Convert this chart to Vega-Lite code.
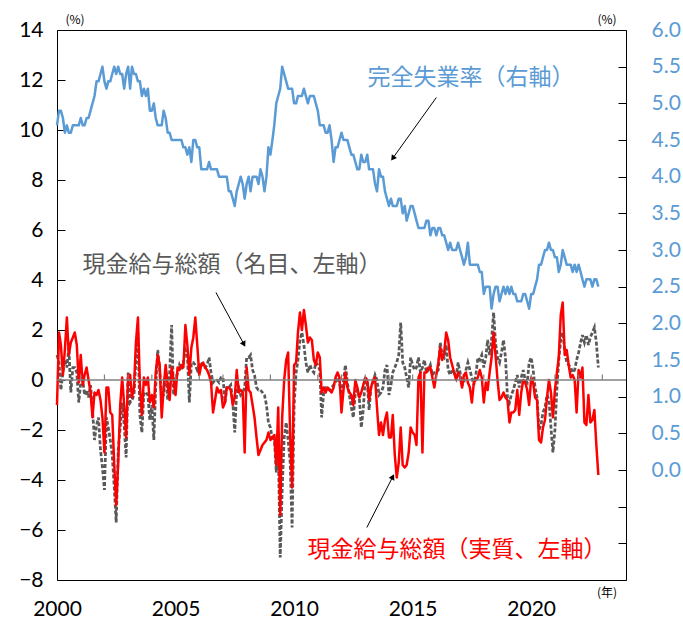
{
"$schema": "https://vega.github.io/schema/vega-lite/v6.json",
"width": 569, "height": 550,
"autosize": {"type": "none"},
"padding": {"left": 57, "top": 30, "right": 57, "bottom": 41},
"background": "white",
"config": {"view": {"stroke": "#000000", "strokeWidth": 1}, "font": "Lato", "axis": {"grid": false, "domain": false}},
"datasets": {
"w": [
{"d":"2000-01","u":4.7,"n":1.0,"r":-1.0},{"d":"2000-02","u":4.9,"n":0.7,"r":1.9},{"d":"2000-03","u":4.9,"n":-0.4,"r":1.4},{"d":"2000-04","u":4.8,"n":0.3,"r":0.2},{"d":"2000-05","u":4.6,"n":0.8,"r":1.2},{"d":"2000-06","u":4.7,"n":0.5,"r":2.5},{"d":"2000-07","u":4.6,"n":1.3,"r":1.0},{"d":"2000-08","u":4.6,"n":-0.5,"r":1.5},{"d":"2000-09","u":4.7,"n":0.5,"r":1.7},{"d":"2000-10","u":4.7,"n":0.5,"r":1.9},{"d":"2000-11","u":4.7,"n":0.3,"r":1.4},{"d":"2000-12","u":4.7,"n":-0.9,"r":-0.1},
{"d":"2001-01","u":4.8,"n":-0.1,"r":1.0},{"d":"2001-02","u":4.7,"n":0.0,"r":-0.2},{"d":"2001-03","u":4.7,"n":-0.6,"r":0.2},{"d":"2001-04","u":4.8,"n":-0.4,"r":0.5},{"d":"2001-05","u":4.8,"n":-0.7,"r":0.0},{"d":"2001-06","u":4.9,"n":-0.2,"r":-0.5},{"d":"2001-07","u":5.0,"n":-1.2,"r":-1.5},{"d":"2001-08","u":5.1,"n":-2.4,"r":-0.5},{"d":"2001-09","u":5.3,"n":-1.8,"r":-0.6},{"d":"2001-10","u":5.3,"n":-1.5,"r":-0.4},{"d":"2001-11","u":5.4,"n":-2.8,"r":-0.8},{"d":"2001-12","u":5.5,"n":-3.5,"r":-1.5},
{"d":"2002-01","u":5.3,"n":-4.4,"r":-2.9},{"d":"2002-02","u":5.2,"n":-1.5,"r":-0.3},{"d":"2002-03","u":5.3,"n":-1.9,"r":-0.3},{"d":"2002-04","u":5.3,"n":-2.4,"r":-1.3},{"d":"2002-05","u":5.4,"n":-3.0,"r":-1.4},{"d":"2002-06","u":5.5,"n":-4.3,"r":-3.4},{"d":"2002-07","u":5.4,"n":-5.7,"r":-5.0},{"d":"2002-08","u":5.5,"n":-2.8,"r":-3.3},{"d":"2002-09","u":5.4,"n":-1.9,"r":-1.0},{"d":"2002-10","u":5.4,"n":-0.9,"r":0.1},{"d":"2002-11","u":5.2,"n":-1.8,"r":-1.0},{"d":"2002-12","u":5.4,"n":-3.1,"r":-2.3},
{"d":"2003-01","u":5.5,"n":0.3,"r":0.2},{"d":"2003-02","u":5.2,"n":-0.9,"r":0.2},{"d":"2003-03","u":5.5,"n":-0.8,"r":-0.7},{"d":"2003-04","u":5.4,"n":-0.6,"r":-0.3},{"d":"2003-05","u":5.4,"n":0.8,"r":1.5},{"d":"2003-06","u":5.3,"n":1.9,"r":2.5},{"d":"2003-07","u":5.3,"n":-1.4,"r":-0.2},{"d":"2003-08","u":5.1,"n":-2.1,"r":-1.4},{"d":"2003-09","u":5.2,"n":-0.5,"r":0.1},{"d":"2003-10","u":5.1,"n":-0.5,"r":-0.2},{"d":"2003-11","u":5.2,"n":-0.6,"r":0.1},{"d":"2003-12","u":4.9,"n":-1.6,"r":-0.9},
{"d":"2004-01","u":4.9,"n":-1.0,"r":-0.6},{"d":"2004-02","u":5.0,"n":-2.4,"r":-1.1},{"d":"2004-03","u":4.8,"n":-0.3,"r":0.3},{"d":"2004-04","u":4.7,"n":1.2,"r":1.0},{"d":"2004-05","u":4.7,"n":0.4,"r":0.6},{"d":"2004-06","u":4.7,"n":-0.7,"r":-1.5},{"d":"2004-07","u":4.9,"n":-0.6,"r":-0.3},{"d":"2004-08","u":4.8,"n":0.4,"r":0.6},{"d":"2004-09","u":4.6,"n":-0.8,"r":-0.2},{"d":"2004-10","u":4.6,"n":0.3,"r":-0.8},{"d":"2004-11","u":4.5,"n":2.2,"r":0.5},{"d":"2004-12","u":4.5,"n":-0.6,"r":0.0},
{"d":"2005-01","u":4.5,"n":0.0,"r":-0.6},{"d":"2005-02","u":4.5,"n":0.3,"r":0.5},{"d":"2005-03","u":4.5,"n":0.6,"r":0.4},{"d":"2005-04","u":4.5,"n":0.4,"r":0.6},{"d":"2005-05","u":4.4,"n":0.7,"r":0.5},{"d":"2005-06","u":4.4,"n":1.2,"r":2.2},{"d":"2005-07","u":4.3,"n":1.0,"r":1.4},{"d":"2005-08","u":4.4,"n":-0.9,"r":0.2},{"d":"2005-09","u":4.2,"n":0.7,"r":1.3},{"d":"2005-10","u":4.5,"n":0.7,"r":1.7},{"d":"2005-11","u":4.5,"n":0.6,"r":2.5},{"d":"2005-12","u":4.4,"n":0.4,"r":1.4},
{"d":"2006-01","u":4.4,"n":0.6,"r":0.2},{"d":"2006-02","u":4.1,"n":0.7,"r":0.6},{"d":"2006-03","u":4.1,"n":0.5,"r":0.7},{"d":"2006-04","u":4.1,"n":0.5,"r":0.5},{"d":"2006-05","u":4.1,"n":0.6,"r":0.4},{"d":"2006-06","u":4.2,"n":0.9,"r":0.2},{"d":"2006-07","u":4.1,"n":0.3,"r":-0.1},{"d":"2006-08","u":4.1,"n":-0.1,"r":-1.3},{"d":"2006-09","u":4.1,"n":0.0,"r":-0.8},{"d":"2006-10","u":4.1,"n":0.0,"r":-0.3},{"d":"2006-11","u":4.0,"n":-0.1,"r":-0.5},{"d":"2006-12","u":4.0,"n":0.1,"r":-0.4},
{"d":"2007-01","u":4.0,"n":0.1,"r":-1.1},{"d":"2007-02","u":4.0,"n":-0.9,"r":-0.9},{"d":"2007-03","u":4.0,"n":-0.3,"r":-0.3},{"d":"2007-04","u":3.8,"n":-0.3,"r":-0.3},{"d":"2007-05","u":3.8,"n":-0.2,"r":-0.4},{"d":"2007-06","u":3.7,"n":-0.9,"r":-1.0},{"d":"2007-07","u":3.6,"n":-2.1,"r":-0.7},{"d":"2007-08","u":3.8,"n":-0.4,"r":0.4},{"d":"2007-09","u":3.9,"n":-0.3,"r":-0.5},{"d":"2007-10","u":4.0,"n":-0.6,"r":-0.4},{"d":"2007-11","u":3.9,"n":-0.5,"r":-0.5},{"d":"2007-12","u":3.7,"n":-0.3,"r":-2.9},
{"d":"2008-01","u":3.9,"n":0.9,"r":0.5},{"d":"2008-02","u":4.0,"n":0.9,"r":-0.4},{"d":"2008-03","u":3.8,"n":1.0,"r":-0.5},{"d":"2008-04","u":4.0,"n":0.4,"r":-1.0},{"d":"2008-05","u":4.0,"n":0.2,"r":-1.5},{"d":"2008-06","u":4.0,"n":-0.3,"r":-2.3},{"d":"2008-07","u":3.9,"n":-0.4,"r":-3.0},{"d":"2008-08","u":4.1,"n":-0.4,"r":-2.8},{"d":"2008-09","u":4.0,"n":-0.5,"r":-2.6},{"d":"2008-10","u":3.8,"n":-0.6,"r":-2.5},{"d":"2008-11","u":4.0,"n":-1.0,"r":-2.4},{"d":"2008-12","u":4.4,"n":-1.7,"r":-2.1},
{"d":"2009-01","u":4.3,"n":-1.9,"r":-2.4},{"d":"2009-02","u":4.5,"n":-2.4,"r":-2.3},{"d":"2009-03","u":4.7,"n":-2.3,"r":-2.2},{"d":"2009-04","u":5.0,"n":-3.7,"r":-3.4},{"d":"2009-05","u":5.1,"n":-2.5,"r":-1.1},{"d":"2009-06","u":5.2,"n":-7.1,"r":-5.4},{"d":"2009-07","u":5.5,"n":-4.4,"r":-1.5},{"d":"2009-08","u":5.4,"n":-2.3,"r":0.0},{"d":"2009-09","u":5.3,"n":-1.7,"r":0.8},{"d":"2009-10","u":5.2,"n":-2.4,"r":1.1},{"d":"2009-11","u":5.2,"n":-3.3,"r":-2.2},{"d":"2009-12","u":5.2,"n":-5.9,"r":-4.3},
{"d":"2010-01","u":5.0,"n":-1.0,"r":0.6},{"d":"2010-02","u":5.0,"n":0.3,"r":0.7},{"d":"2010-03","u":5.1,"n":0.8,"r":1.9},{"d":"2010-04","u":5.1,"n":1.6,"r":2.7},{"d":"2010-05","u":5.1,"n":1.9,"r":2.0},{"d":"2010-06","u":5.2,"n":1.4,"r":2.8},{"d":"2010-07","u":5.1,"n":0.7,"r":2.2},{"d":"2010-08","u":5.0,"n":0.3,"r":1.5},{"d":"2010-09","u":5.1,"n":0.6,"r":1.7},{"d":"2010-10","u":5.1,"n":0.4,"r":1.6},{"d":"2010-11","u":5.1,"n":0.3,"r":0.8},{"d":"2010-12","u":5.0,"n":0.7,"r":0.6},
{"d":"2011-01","u":4.9,"n":0.6,"r":1.1},{"d":"2011-02","u":4.7,"n":0.4,"r":0.9},{"d":"2011-03","u":4.7,"n":-1.5,"r":-0.5},{"d":"2011-04","u":4.7,"n":-0.5,"r":-0.3},{"d":"2011-05","u":4.6,"n":-0.3,"r":-0.5},{"d":"2011-06","u":4.6,"n":-0.3,"r":-0.3},{"d":"2011-07","u":4.7,"n":-0.4,"r":-0.4},{"d":"2011-08","u":4.5,"n":-0.3,"r":-0.5},{"d":"2011-09","u":4.2,"n":-0.2,"r":-0.3},{"d":"2011-10","u":4.4,"n":-0.1,"r":0.1},{"d":"2011-11","u":4.4,"n":0.1,"r":0.3},{"d":"2011-12","u":4.5,"n":-0.1,"r":0.1},
{"d":"2012-01","u":4.6,"n":-0.6,"r":-1.3},{"d":"2012-02","u":4.5,"n":0.0,"r":-0.4},{"d":"2012-03","u":4.5,"n":0.6,"r":0.3},{"d":"2012-04","u":4.5,"n":-0.1,"r":-0.3},{"d":"2012-05","u":4.4,"n":-0.6,"r":-0.5},{"d":"2012-06","u":4.3,"n":-1.1,"r":-0.6},{"d":"2012-07","u":4.3,"n":-1.5,"r":-1.0},{"d":"2012-08","u":4.2,"n":-0.5,"r":0.0},{"d":"2012-09","u":4.1,"n":-0.4,"r":-0.3},{"d":"2012-10","u":4.1,"n":-0.7,"r":-0.7},{"d":"2012-11","u":4.3,"n":-1.9,"r":-0.5},{"d":"2012-12","u":4.2,"n":-1.2,"r":-0.2},
{"d":"2013-01","u":4.2,"n":0.1,"r":0.1},{"d":"2013-02","u":4.3,"n":-0.1,"r":0.0},{"d":"2013-03","u":4.1,"n":-1.2,"r":-0.8},{"d":"2013-04","u":4.1,"n":-0.2,"r":-0.3},{"d":"2013-05","u":4.1,"n":-0.1,"r":0.0},{"d":"2013-06","u":3.9,"n":0.2,"r":0.1},{"d":"2013-07","u":3.8,"n":0.0,"r":-1.1},{"d":"2013-08","u":4.1,"n":-0.6,"r":-2.2},{"d":"2013-09","u":4.0,"n":-0.5,"r":-1.7},{"d":"2013-10","u":4.0,"n":-0.3,"r":-2.2},{"d":"2013-11","u":3.8,"n":0.4,"r":-1.6},{"d":"2013-12","u":3.7,"n":0.6,"r":-1.3},
{"d":"2014-01","u":3.6,"n":-0.6,"r":-2.3},{"d":"2014-02","u":3.7,"n":-0.2,"r":-2.3},{"d":"2014-03","u":3.6,"n":0.3,"r":-1.4},{"d":"2014-04","u":3.6,"n":0.5,"r":-3.0},{"d":"2014-05","u":3.6,"n":0.7,"r":-3.9},{"d":"2014-06","u":3.7,"n":1.0,"r":-3.3},{"d":"2014-07","u":3.7,"n":2.3,"r":-1.9},{"d":"2014-08","u":3.5,"n":0.7,"r":-3.4},{"d":"2014-09","u":3.6,"n":0.5,"r":-3.5},{"d":"2014-10","u":3.4,"n":0.1,"r":-3.4},{"d":"2014-11","u":3.5,"n":-0.3,"r":-2.9},{"d":"2014-12","u":3.6,"n":0.9,"r":-1.9},
{"d":"2015-01","u":3.6,"n":0.6,"r":-2.1},{"d":"2015-02","u":3.5,"n":0.4,"r":-2.2},{"d":"2015-03","u":3.4,"n":0.5,"r":-2.6},{"d":"2015-04","u":3.3,"n":0.9,"r":0.1},{"d":"2015-05","u":3.3,"n":0.3,"r":0.3},{"d":"2015-06","u":3.3,"n":0.5,"r":-2.9},{"d":"2015-07","u":3.3,"n":0.8,"r":0.3},{"d":"2015-08","u":3.4,"n":0.3,"r":0.3},{"d":"2015-09","u":3.4,"n":0.4,"r":0.5},{"d":"2015-10","u":3.2,"n":0.6,"r":0.5},{"d":"2015-11","u":3.3,"n":0.2,"r":0.1},{"d":"2015-12","u":3.3,"n":0.3,"r":-0.3},
{"d":"2016-01","u":3.2,"n":0.3,"r":0.2},{"d":"2016-02","u":3.3,"n":0.4,"r":0.7},{"d":"2016-03","u":3.3,"n":1.5,"r":1.3},{"d":"2016-04","u":3.2,"n":1.0,"r":0.8},{"d":"2016-05","u":3.2,"n":0.9,"r":1.1},{"d":"2016-06","u":3.1,"n":1.4,"r":1.9},{"d":"2016-07","u":3.0,"n":0.4,"r":1.6},{"d":"2016-08","u":3.1,"n":0.2,"r":0.9},{"d":"2016-09","u":3.0,"n":0.4,"r":0.6},{"d":"2016-10","u":3.0,"n":0.3,"r":0.3},{"d":"2016-11","u":3.0,"n":0.1,"r":0.0},{"d":"2016-12","u":3.1,"n":0.7,"r":0.3},
{"d":"2017-01","u":3.0,"n":0.3,"r":0.1},{"d":"2017-02","u":2.9,"n":-0.2,"r":-0.3},{"d":"2017-03","u":2.8,"n":-0.1,"r":0.2},{"d":"2017-04","u":2.9,"n":0.4,"r":0.3},{"d":"2017-05","u":3.1,"n":0.7,"r":-0.1},{"d":"2017-06","u":2.8,"n":0.4,"r":-0.3},{"d":"2017-07","u":2.8,"n":0.1,"r":-0.9},{"d":"2017-08","u":2.8,"n":-0.2,"r":-0.1},{"d":"2017-09","u":2.8,"n":0.2,"r":0.0},{"d":"2017-10","u":2.8,"n":0.9,"r":0.1},{"d":"2017-11","u":2.7,"n":0.8,"r":0.4},{"d":"2017-12","u":2.7,"n":1.0,"r":0.1},
{"d":"2018-01","u":2.4,"n":0.5,"r":-0.9},{"d":"2018-02","u":2.5,"n":0.9,"r":-0.1},{"d":"2018-03","u":2.5,"n":1.6,"r":-0.4},{"d":"2018-04","u":2.5,"n":1.0,"r":0.3},{"d":"2018-05","u":2.2,"n":1.6,"r":0.9},{"d":"2018-06","u":2.4,"n":2.7,"r":1.9},{"d":"2018-07","u":2.5,"n":1.5,"r":1.0},{"d":"2018-08","u":2.5,"n":0.9,"r":0.0},{"d":"2018-09","u":2.3,"n":0.7,"r":-0.8},{"d":"2018-10","u":2.4,"n":1.1,"r":-0.7},{"d":"2018-11","u":2.5,"n":1.6,"r":-0.5},{"d":"2018-12","u":2.4,"n":0.9,"r":-0.7},
{"d":"2019-01","u":2.5,"n":-0.7,"r":-0.8},{"d":"2019-02","u":2.4,"n":-0.9,"r":-1.7},{"d":"2019-03","u":2.5,"n":-0.6,"r":-1.3},{"d":"2019-04","u":2.4,"n":-0.4,"r":-1.3},{"d":"2019-05","u":2.4,"n":-0.1,"r":-1.2},{"d":"2019-06","u":2.3,"n":0.2,"r":-0.4},{"d":"2019-07","u":2.3,"n":-0.3,"r":-1.4},{"d":"2019-08","u":2.3,"n":0.1,"r":-0.5},{"d":"2019-09","u":2.4,"n":0.4,"r":0.0},{"d":"2019-10","u":2.4,"n":0.0,"r":-0.1},{"d":"2019-11","u":2.3,"n":-0.1,"r":-0.4},{"d":"2019-12","u":2.2,"n":0.7,"r":-1.0},
{"d":"2020-01","u":2.4,"n":0.9,"r":0.1},{"d":"2020-02","u":2.4,"n":0.4,"r":-0.1},{"d":"2020-03","u":2.5,"n":-0.3,"r":-0.7},{"d":"2020-04","u":2.6,"n":-0.7,"r":-0.8},{"d":"2020-05","u":2.8,"n":-2.0,"r":-2.4},{"d":"2020-06","u":2.8,"n":-1.8,"r":-2.5},{"d":"2020-07","u":2.9,"n":-1.3,"r":-1.9},{"d":"2020-08","u":3.0,"n":-1.1,"r":-1.6},{"d":"2020-09","u":3.0,"n":-0.6,"r":-0.7},{"d":"2020-10","u":3.1,"n":-0.8,"r":0.0},{"d":"2020-11","u":3.0,"n":-1.9,"r":-0.5},{"d":"2020-12","u":3.0,"n":-2.9,"r":-1.5},
{"d":"2021-01","u":2.9,"n":-2.0,"r":-0.4},{"d":"2021-02","u":2.9,"n":-0.3,"r":0.3},{"d":"2021-03","u":2.7,"n":0.8,"r":0.9},{"d":"2021-04","u":2.8,"n":1.6,"r":2.6},{"d":"2021-05","u":3.0,"n":1.9,"r":3.1},{"d":"2021-06","u":2.9,"n":1.2,"r":1.0},{"d":"2021-07","u":2.8,"n":0.7,"r":1.2},{"d":"2021-08","u":2.8,"n":0.6,"r":0.6},{"d":"2021-09","u":2.8,"n":0.5,"r":0.1},{"d":"2021-10","u":2.7,"n":0.3,"r":0.2},{"d":"2021-11","u":2.8,"n":0.4,"r":0.0},{"d":"2021-12","u":2.7,"n":0.8,"r":-1.3},
{"d":"2022-01","u":2.8,"n":1.1,"r":0.4},{"d":"2022-02","u":2.7,"n":1.5,"r":0.1},{"d":"2022-03","u":2.6,"n":1.8,"r":0.5},{"d":"2022-04","u":2.5,"n":1.5,"r":-1.7},{"d":"2022-05","u":2.6,"n":1.8,"r":-1.8},{"d":"2022-06","u":2.6,"n":1.4,"r":-0.6},{"d":"2022-07","u":2.6,"n":1.7,"r":-1.7},{"d":"2022-08","u":2.5,"n":1.9,"r":-1.6},{"d":"2022-09","u":2.6,"n":2.1,"r":-1.2},{"d":"2022-10","u":2.6,"n":1.5,"r":-2.6},{"d":"2022-11","u":2.5,"n":0.5,"r":-3.8}
],
"years": [{"d":"2001-01"},{"d":"2002-01"},{"d":"2003-01"},{"d":"2004-01"},{"d":"2005-01"},{"d":"2006-01"},{"d":"2007-01"},{"d":"2008-01"},{"d":"2009-01"},{"d":"2010-01"},{"d":"2011-01"},{"d":"2012-01"},{"d":"2013-01"},{"d":"2014-01"},{"d":"2015-01"},{"d":"2016-01"},{"d":"2017-01"},{"d":"2018-01"},{"d":"2019-01"},{"d":"2020-01"},{"d":"2021-01"},{"d":"2022-01"},{"d":"2023-01"}]
},
"layer": [
{"data": {"name": "w"}, "mark": {"type": "line", "color": "#595959", "strokeWidth": 2.75, "strokeDash": [4, 2], "zindex": 2},
 "encoding": {"x": {"field": "d", "type": "temporal", "title": null, "scale": {"domain": [{"year": 2000, "month": 1, "date": 1}, {"year": 2024, "month": 1, "date": 1}]},
   "axis": {"tickCount": {"interval": "year", "step": 5}, "format": "%Y", "tickSize": 0, "tickOpacity": 0, "domain": false, "grid": false, "labelFlush": false, "labelOverlap": false, "labelFont": "Lato", "labelFontSize": 21, "labelColor": "#000000", "labelPadding": 18, "title": null}},
  "y": {"field": "n", "type": "quantitative", "scale": {"domain": [-8, 14]},
   "axis": {"orient": "left", "values": [-8, -6, -4, -2, 0, 2, 4, 6, 8, 10, 12, 14], "tickSize": -8, "tickColor": "#000000", "tickWidth": 1, "domain": false, "grid": false, "labelFont": "Lato", "labelFontSize": 21, "labelColor": "#000000", "labelPadding": 22, "labelOverlap": false, "title": null}}}},
{"data": {"name": "w"}, "mark": {"type": "line", "color": "#5B9BD5", "strokeWidth": 2.5, "strokeJoin": "round"},
 "encoding": {"x": {"field": "d", "type": "temporal", "title": null, "scale": {"domain": [{"year": 2000, "month": 1, "date": 1}, {"year": 2024, "month": 1, "date": 1}]},
   "axis": {"tickCount": {"interval": "year", "step": 5}, "format": "%Y", "tickSize": 0, "tickOpacity": 0, "domain": false, "grid": false, "labelFlush": false, "labelOverlap": false, "labelFont": "Lato", "labelFontSize": 21, "labelColor": "#000000", "labelPadding": 18, "title": null}},
  "y": {"field": "u", "type": "quantitative", "scale": {"domain": [-1.5, 6]},
   "axis": {"orient": "right", "values": [-1.5, -1, -0.5, 0, 0.5, 1, 1.5, 2, 2.5, 3, 3.5, 4, 4.5, 5, 5.5, 6], "labelExpr": "datum.value >= -0.001 ? format(datum.value, '.1f') : ''", "tickSize": -8, "tickColor": "#000000", "tickWidth": 1, "domain": false, "grid": false, "labelFont": "Lato", "labelFontSize": 21, "labelColor": "#5B9BD5", "labelPadding": 33, "labelOverlap": false, "title": null}}}},
{"data": {"name": "w"}, "mark": {"type": "line", "color": "#FF0000", "strokeWidth": 2.5, "strokeJoin": "round", "zindex": 1},
 "encoding": {"x": {"field": "d", "type": "temporal", "title": null, "scale": {"domain": [{"year": 2000, "month": 1, "date": 1}, {"year": 2024, "month": 1, "date": 1}]},
   "axis": {"tickCount": {"interval": "year", "step": 5}, "format": "%Y", "tickSize": 0, "tickOpacity": 0, "domain": false, "grid": false, "labelFlush": false, "labelOverlap": false, "labelFont": "Lato", "labelFontSize": 21, "labelColor": "#000000", "labelPadding": 18, "title": null}},
  "y": {"field": "r", "type": "quantitative", "scale": {"domain": [-8, 14]}, "axis": null}}},
{"data": {"values": [{}]}, "mark": {"type": "rule", "color": "#808080", "strokeWidth": 1.5},
 "encoding": {"y": {"datum": 0, "type": "quantitative", "scale": {"domain": [-8, 14]}, "axis": null}}},
{"data": {"name": "years"}, "mark": {"type": "rule", "color": "#808080", "strokeWidth": 1.2},
 "encoding": {"x": {"field": "d", "type": "temporal", "title": null, "scale": {"domain": [{"year": 2000, "month": 1, "date": 1}, {"year": 2024, "month": 1, "date": 1}]},
   "axis": {"tickCount": {"interval": "year", "step": 5}, "format": "%Y", "tickSize": 0, "tickOpacity": 0, "domain": false, "grid": false, "labelFlush": false, "labelOverlap": false, "labelFont": "Lato", "labelFontSize": 21, "labelColor": "#000000", "labelPadding": 18, "title": null}},
  "y": {"datum": 0, "type": "quantitative", "scale": {"domain": [-8, 14]}, "axis": null}, "y2": {"datum": 0.22}}},
{"data": {"values": [{}]}, "mark": {"type": "text", "text": "完全失業率（右軸）", "font": "Noto Sans CJK JP", "fontSize": 23, "color": "#5B9BD5", "align": "center", "baseline": "middle"},
 "encoding": {"x": {"datum": {"year": 2017, "month": 6, "date": 19}, "type": "temporal", "title": null, "scale": {"domain": [{"year": 2000, "month": 1, "date": 1}, {"year": 2024, "month": 1, "date": 1}]},
   "axis": {"tickCount": {"interval": "year", "step": 5}, "format": "%Y", "tickSize": 0, "tickOpacity": 0, "domain": false, "grid": false, "labelFlush": false, "labelOverlap": false, "labelFont": "Lato", "labelFontSize": 21, "labelColor": "#000000", "labelPadding": 18, "title": null}},
  "y": {"datum": 12.08, "type": "quantitative", "scale": {"domain": [-8, 14]}, "axis": null}}},
{"data": {"values": [{}]}, "mark": {"type": "text", "text": "現金給与総額（名目、左軸）", "font": "Noto Sans CJK JP", "fontSize": 23, "color": "#595959", "align": "center", "baseline": "middle"},
 "encoding": {"x": {"datum": {"year": 2007, "month": 5, "date": 19}, "type": "temporal", "title": null, "scale": {"domain": [{"year": 2000, "month": 1, "date": 1}, {"year": 2024, "month": 1, "date": 1}]},
   "axis": {"tickCount": {"interval": "year", "step": 5}, "format": "%Y", "tickSize": 0, "tickOpacity": 0, "domain": false, "grid": false, "labelFlush": false, "labelOverlap": false, "labelFont": "Lato", "labelFontSize": 21, "labelColor": "#000000", "labelPadding": 18, "title": null}},
  "y": {"datum": 4.6, "type": "quantitative", "scale": {"domain": [-8, 14]}, "axis": null}}},
{"data": {"values": [{}]}, "mark": {"type": "text", "text": "現金給与総額（実質、左軸）", "font": "Noto Sans CJK JP", "fontSize": 23, "color": "#FF0000", "align": "center", "baseline": "middle"},
 "encoding": {"x": {"datum": {"year": 2016, "month": 11, "date": 15}, "type": "temporal", "title": null, "scale": {"domain": [{"year": 2000, "month": 1, "date": 1}, {"year": 2024, "month": 1, "date": 1}]},
   "axis": {"tickCount": {"interval": "year", "step": 5}, "format": "%Y", "tickSize": 0, "tickOpacity": 0, "domain": false, "grid": false, "labelFlush": false, "labelOverlap": false, "labelFont": "Lato", "labelFontSize": 21, "labelColor": "#000000", "labelPadding": 18, "title": null}},
  "y": {"datum": -6.8, "type": "quantitative", "scale": {"domain": [-8, 14]}, "axis": null}}},
{"data": {"values": [{}]}, "mark": {"type": "rule", "color": "#000000", "strokeWidth": 1},
 "encoding": {"x": {"datum": {"year": 2016, "month": 1, "date": 1}, "type": "temporal", "title": null, "scale": {"domain": [{"year": 2000, "month": 1, "date": 1}, {"year": 2024, "month": 1, "date": 1}]},
   "axis": {"tickCount": {"interval": "year", "step": 5}, "format": "%Y", "tickSize": 0, "tickOpacity": 0, "domain": false, "grid": false, "labelFlush": false, "labelOverlap": false, "labelFont": "Lato", "labelFontSize": 21, "labelColor": "#000000", "labelPadding": 18, "title": null}},
  "y": {"datum": 11.3, "type": "quantitative", "scale": {"domain": [-8, 14]}, "axis": null},
  "x2": {"datum": {"year": 2014, "month": 3, "date": 1}}, "y2": {"datum": 8.87}}},
{"data": {"values": [{}]}, "mark": {"type": "rule", "color": "#000000", "strokeWidth": 1},
 "encoding": {"x": {"datum": {"year": 2006, "month": 9, "date": 15}, "type": "temporal", "title": null, "scale": {"domain": [{"year": 2000, "month": 1, "date": 1}, {"year": 2024, "month": 1, "date": 1}]},
   "axis": {"tickCount": {"interval": "year", "step": 5}, "format": "%Y", "tickSize": 0, "tickOpacity": 0, "domain": false, "grid": false, "labelFlush": false, "labelOverlap": false, "labelFont": "Lato", "labelFontSize": 21, "labelColor": "#000000", "labelPadding": 18, "title": null}},
  "y": {"datum": 3.5, "type": "quantitative", "scale": {"domain": [-8, 14]}, "axis": null},
  "x2": {"datum": {"year": 2007, "month": 11, "date": 20}}, "y2": {"datum": 1.43}}},
{"data": {"values": [{}]}, "mark": {"type": "rule", "color": "#000000", "strokeWidth": 1},
 "encoding": {"x": {"datum": {"year": 2013, "month": 1, "date": 25}, "type": "temporal", "title": null, "scale": {"domain": [{"year": 2000, "month": 1, "date": 1}, {"year": 2024, "month": 1, "date": 1}]},
   "axis": {"tickCount": {"interval": "year", "step": 5}, "format": "%Y", "tickSize": 0, "tickOpacity": 0, "domain": false, "grid": false, "labelFlush": false, "labelOverlap": false, "labelFont": "Lato", "labelFontSize": 21, "labelColor": "#000000", "labelPadding": 18, "title": null}},
  "y": {"datum": -5.9, "type": "quantitative", "scale": {"domain": [-8, 14]}, "axis": null},
  "x2": {"datum": {"year": 2014, "month": 3, "date": 1}}, "y2": {"datum": -3.87}}},
{"data": {"values": [{}]}, "mark": {"type": "point", "shape": "triangle-up", "filled": true, "color": "#000000", "size": 40, "angle": 216, "opacity": 1},
 "encoding": {"x": {"datum": {"year": 2014, "month": 3, "date": 1}, "type": "temporal", "title": null, "scale": {"domain": [{"year": 2000, "month": 1, "date": 1}, {"year": 2024, "month": 1, "date": 1}]},
   "axis": {"tickCount": {"interval": "year", "step": 5}, "format": "%Y", "tickSize": 0, "tickOpacity": 0, "domain": false, "grid": false, "labelFlush": false, "labelOverlap": false, "labelFont": "Lato", "labelFontSize": 21, "labelColor": "#000000", "labelPadding": 18, "title": null}},
  "y": {"datum": 8.87, "type": "quantitative", "scale": {"domain": [-8, 14]}, "axis": null}}},
{"data": {"values": [{}]}, "mark": {"type": "point", "shape": "triangle-up", "filled": true, "color": "#000000", "size": 40, "angle": 152, "opacity": 1},
 "encoding": {"x": {"datum": {"year": 2007, "month": 11, "date": 20}, "type": "temporal", "title": null, "scale": {"domain": [{"year": 2000, "month": 1, "date": 1}, {"year": 2024, "month": 1, "date": 1}]},
   "axis": {"tickCount": {"interval": "year", "step": 5}, "format": "%Y", "tickSize": 0, "tickOpacity": 0, "domain": false, "grid": false, "labelFlush": false, "labelOverlap": false, "labelFont": "Lato", "labelFontSize": 21, "labelColor": "#000000", "labelPadding": 18, "title": null}},
  "y": {"datum": 1.43, "type": "quantitative", "scale": {"domain": [-8, 14]}, "axis": null}}},
{"data": {"values": [{}]}, "mark": {"type": "point", "shape": "triangle-up", "filled": true, "color": "#000000", "size": 40, "angle": 27, "opacity": 1},
 "encoding": {"x": {"datum": {"year": 2014, "month": 3, "date": 1}, "type": "temporal", "title": null, "scale": {"domain": [{"year": 2000, "month": 1, "date": 1}, {"year": 2024, "month": 1, "date": 1}]},
   "axis": {"tickCount": {"interval": "year", "step": 5}, "format": "%Y", "tickSize": 0, "tickOpacity": 0, "domain": false, "grid": false, "labelFlush": false, "labelOverlap": false, "labelFont": "Lato", "labelFontSize": 21, "labelColor": "#000000", "labelPadding": 18, "title": null}},
  "y": {"datum": -3.87, "type": "quantitative", "scale": {"domain": [-8, 14]}, "axis": null}}},
{"data": {"values": [{}]}, "mark": {"type": "text", "text": "(%)", "font": "Noto Sans CJK JP", "fontSize": 12, "color": "#000000", "align": "center", "baseline": "middle"},
 "encoding": {"x": {"datum": {"year": 2000, "month": 10, "date": 4}, "type": "temporal", "title": null, "scale": {"domain": [{"year": 2000, "month": 1, "date": 1}, {"year": 2024, "month": 1, "date": 1}]},
   "axis": {"tickCount": {"interval": "year", "step": 5}, "format": "%Y", "tickSize": 0, "tickOpacity": 0, "domain": false, "grid": false, "labelFlush": false, "labelOverlap": false, "labelFont": "Lato", "labelFontSize": 21, "labelColor": "#000000", "labelPadding": 18, "title": null}},
  "y": {"datum": 14.4, "type": "quantitative", "scale": {"domain": [-8, 14]}, "axis": null}}},
{"data": {"values": [{}]}, "mark": {"type": "text", "text": "(%)", "font": "Noto Sans CJK JP", "fontSize": 12, "color": "#000000", "align": "center", "baseline": "middle"},
 "encoding": {"x": {"datum": {"year": 2023, "month": 3, "date": 15}, "type": "temporal", "title": null, "scale": {"domain": [{"year": 2000, "month": 1, "date": 1}, {"year": 2024, "month": 1, "date": 1}]},
   "axis": {"tickCount": {"interval": "year", "step": 5}, "format": "%Y", "tickSize": 0, "tickOpacity": 0, "domain": false, "grid": false, "labelFlush": false, "labelOverlap": false, "labelFont": "Lato", "labelFontSize": 21, "labelColor": "#000000", "labelPadding": 18, "title": null}},
  "y": {"datum": 14.4, "type": "quantitative", "scale": {"domain": [-8, 14]}, "axis": null}}},
{"data": {"values": [{}]}, "mark": {"type": "text", "text": "(年)", "font": "Noto Sans CJK JP", "fontSize": 12, "color": "#000000", "align": "center", "baseline": "middle"},
 "encoding": {"x": {"datum": {"year": 2023, "month": 3, "date": 15}, "type": "temporal", "title": null, "scale": {"domain": [{"year": 2000, "month": 1, "date": 1}, {"year": 2024, "month": 1, "date": 1}]},
   "axis": {"tickCount": {"interval": "year", "step": 5}, "format": "%Y", "tickSize": 0, "tickOpacity": 0, "domain": false, "grid": false, "labelFlush": false, "labelOverlap": false, "labelFont": "Lato", "labelFontSize": 21, "labelColor": "#000000", "labelPadding": 18, "title": null}},
  "y": {"datum": -8.52, "type": "quantitative", "scale": {"domain": [-8, 14]}, "axis": null}}}
],
"resolve": {"scale": {"y": "independent"}}
}
